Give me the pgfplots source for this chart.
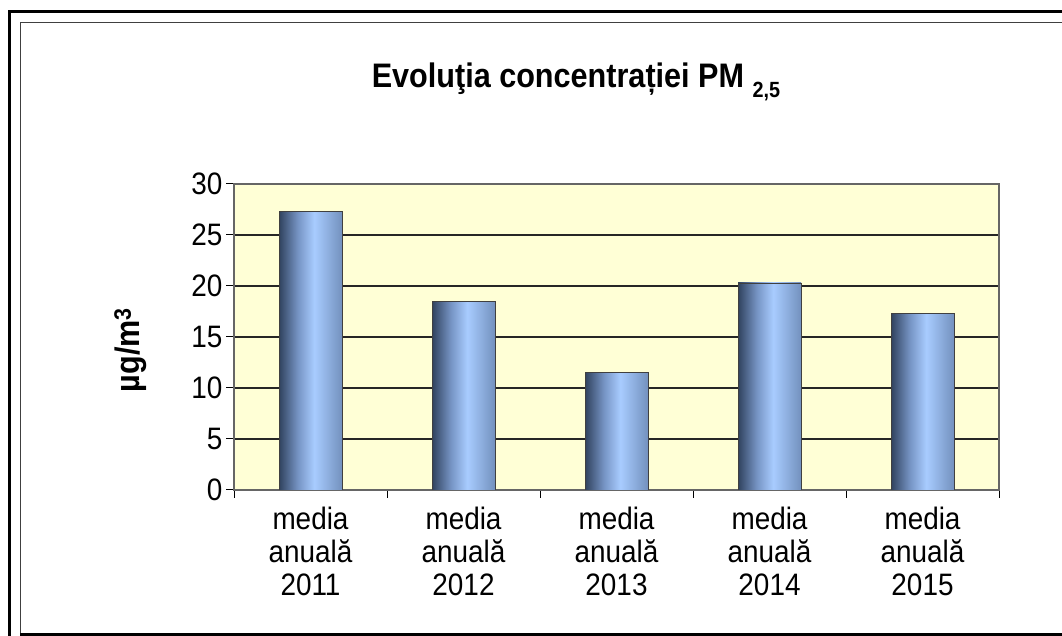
\documentclass[border=0pt]{standalone}
\usepackage{fontspec}
\setmainfont{Liberation Sans}[FakeStretch=0.9]
\usepackage{pgfplots}
\pgfplotsset{compat=1.18}
\definecolor{plotbg}{RGB}{255,255,214}
\definecolor{bdark}{RGB}{48,66,94}
\definecolor{bmid}{RGB}{118,148,196}
\definecolor{blight}{RGB}{168,204,255}
\definecolor{bright}{RGB}{115,145,190}
\pgfdeclarehorizontalshading{barshade}{100bp}{color(0bp)=(bdark); color(25bp)=(bdark); color(40bp)=(bmid); color(53bp)=(blight); color(75bp)=(bright); color(100bp)=(bright)}
\pgfplotsset{cylbar/.style={ybar, bar shift=0pt, bar width=63pt, draw=black!75, line width=0.8pt, shading=barshade}}
\begin{document}
\begin{tikzpicture}[x=1pt,y=1pt]
\useasboundingbox (0,0) rectangle (1062,636);
\draw[line width=3pt] (1075,624) -- (9,624) -- (9,-10);
\draw[line width=1pt, black!75] (1075,613) -- (20,613) -- (20,1);
\draw[line width=2.5pt] (20,1.25) -- (1075,1.25);
\begin{axis}[
  at={(234pt,146pt)}, anchor=south west,
  scale only axis, width=765pt, height=306pt,
  xmin=-0.5, xmax=4.5, ymin=0, ymax=30,
  xtick={-0.5,0.5,1.5,2.5,3.5,4.5}, x tick label as interval,
  xticklabels={{media\\anuală\\2011},{media\\anuală\\2012},{media\\anuală\\2013},{media\\anuală\\2014},{media\\anuală\\2015}},
  ytick={0,5,...,30},
  tick align=outside, tick pos=left, major tick length=8pt,
  ymajorgrids, major grid style={black!85, line width=1.4pt},
  axis background/.style={fill=plotbg},
  axis line style={black!60, line width=1.2pt},
  tick style={black, line width=1pt},
  /pgf/number format/assume math mode=true,
  yticklabel style={font=\fontsize{31}{35}\selectfont},
  xticklabel style={align=center, font=\fontsize{31}{33}\selectfont, yshift=-6pt},
  title={\bfseries\fontsize{34}{38}\selectfont Evoluţia concentrației PM {\fontsize{22}{24}\selectfont\raisebox{-10pt}{2,5}}},
  title style={at={(axis description cs:0.447,1.297)}, anchor=base},
  ylabel={\bfseries µg/m\textsuperscript{3}},
  ylabel style={font=\fontsize{34}{38}\selectfont, at={(axis description cs:-0.135,0.458)}, anchor=center},
]
\addplot[cylbar] coordinates {(0,27.3)};
\addplot[cylbar] coordinates {(1,18.5)};
\addplot[cylbar] coordinates {(2,11.5)};
\addplot[cylbar] coordinates {(3,20.3)};
\addplot[cylbar] coordinates {(4,17.3)};
\end{axis}
\end{tikzpicture}
\end{document}
